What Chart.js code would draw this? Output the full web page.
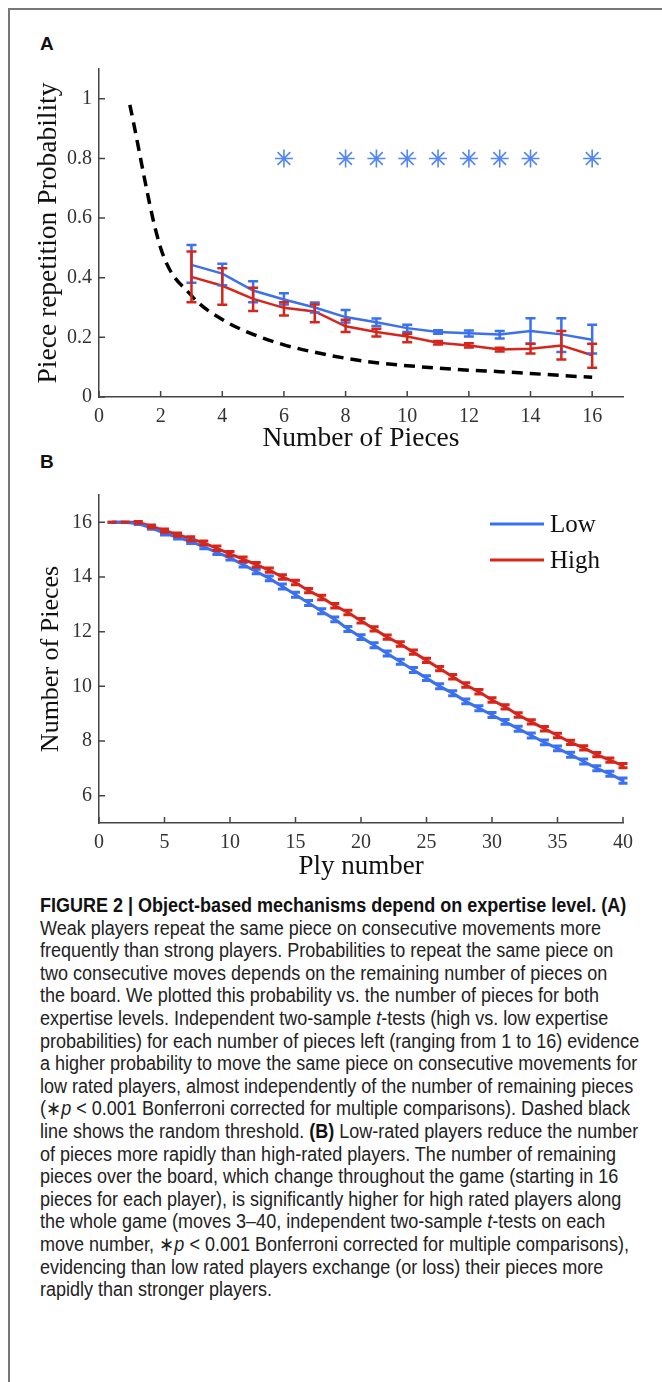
<!DOCTYPE html>
<html>
<head>
<meta charset="utf-8">
<script src="https://cdn.jsdelivr.net/npm/chart.js@4.4.0/dist/chart.umd.min.js"></script>
<style>
  body { margin: 0; width: 662px; height: 1382px; background: #fff; position: relative; overflow: hidden; }
  #frame { position: absolute; left: 8px; top: 8px; width: 700px; height: 1400px; border-left: 2px solid #777; border-top: 2px solid #777; }
  .lbl { position: absolute; font: bold 19px "Liberation Sans", Arial, sans-serif; color: #111; }
  #chartA { position: absolute; left: 0; top: 50px; }
  #chartB { position: absolute; left: 0; top: 470px; }
  #caption { position: absolute; left: 40px; top: 894px; font: 20px "Liberation Sans", sans-serif;
             color: #222; line-height: 22.6px; white-space: nowrap; transform: scaleX(0.9); transform-origin: 0 0; }
  #caption div b { color: #111; }
</style>
</head>
<body>
<div id="frame"></div>
<div class="lbl" style="left:40px;top:33px">A</div>
<div class="lbl" style="left:40px;top:451px">B</div>
<canvas id="chartA" width="662" height="410"></canvas>
<canvas id="chartB" width="662" height="420"></canvas>
<div id="caption">
  <div><b>FIGURE 2 | Object-based mechanisms depend on expertise level. (A)</b></div>
  <div>Weak players repeat the same piece on consecutive movements more</div>
  <div>frequently than strong players. Probabilities to repeat the same piece on</div>
  <div>two consecutive moves depends on the remaining number of pieces on</div>
  <div>the board. We plotted this probability vs. the number of pieces for both</div>
  <div>expertise levels. Independent two-sample <i>t</i>-tests (high vs. low expertise</div>
  <div>probabilities) for each number of pieces left (ranging from 1 to 16) evidence</div>
  <div>a higher probability to move the same piece on consecutive movements for</div>
  <div>low rated players, almost independently of the number of remaining pieces</div>
  <div>(∗<i>p</i> &lt; 0.001 Bonferroni corrected for multiple comparisons). Dashed black</div>
  <div>line shows the random threshold. <b>(B)</b> Low-rated players reduce the number</div>
  <div>of pieces more rapidly than high-rated players. The number of remaining</div>
  <div>pieces over the board, which change throughout the game (starting in 16</div>
  <div>pieces for each player), is significantly higher for high rated players along</div>
  <div>the whole game (moves 3–40, independent two-sample <i>t</i>-tests on each</div>
  <div>move number, ∗<i>p</i> &lt; 0.001 Bonferroni corrected for multiple comparisons),</div>
  <div>evidencing than low rated players exchange (or loss) their pieces more</div>
  <div>rapidly than stronger players.</div>
</div>
<script>
// ---- panel A data ----
const pieceTicks = [0, 2, 4, 6, 8, 10, 12, 14, 16];
const probTicks = [0, 0.2, 0.4, 0.6, 0.8, 1];
const randomPieces = [1, 2, 3, 4, 5, 6, 7, 8, 9, 10, 11, 12, 13, 14, 15, 16];
const randomProb = [0.98, 0.5, 0.34, 0.26, 0.21, 0.175, 0.15, 0.13, 0.115, 0.105, 0.097, 0.09, 0.085, 0.079, 0.072, 0.066];
const pieces = [3, 4, 5, 6, 7, 8, 9, 10, 11, 12, 13, 14, 15, 16];
const lowProb   = [0.443, 0.414, 0.357, 0.327, 0.300, 0.268, 0.251, 0.231, 0.218, 0.214, 0.210, 0.221, 0.210, 0.192];
const lowProbLo = [0.383, 0.375, 0.318, 0.310, 0.283, 0.250, 0.238, 0.218, 0.212, 0.203, 0.196, 0.179, 0.151, 0.146];
const lowProbHi = [0.510, 0.447, 0.388, 0.348, 0.317, 0.292, 0.263, 0.242, 0.224, 0.223, 0.221, 0.264, 0.264, 0.242];
const highProb   = [0.403, 0.373, 0.329, 0.299, 0.287, 0.237, 0.218, 0.203, 0.182, 0.173, 0.159, 0.162, 0.173, 0.140];
const highProbLo = [0.318, 0.309, 0.288, 0.273, 0.251, 0.218, 0.203, 0.184, 0.176, 0.166, 0.153, 0.146, 0.126, 0.098];
const highProbHi = [0.488, 0.432, 0.366, 0.318, 0.310, 0.259, 0.229, 0.212, 0.188, 0.180, 0.165, 0.179, 0.221, 0.179];
const sigPieces = [6, 8, 9, 10, 11, 12, 13, 14, 16];
const sigLevel = 0.8;

// ---- panel B data ----
const plyTicks = [0, 5, 10, 15, 20, 25, 30, 35, 40];
const countTicks = [6, 8, 10, 12, 14, 16];
const plies = [1, 2, 3, 4, 5, 6, 7, 8, 9, 10, 11, 12, 13, 14, 15, 16, 17, 18, 19, 20,
               21, 22, 23, 24, 25, 26, 27, 28, 29, 30, 31, 32, 33, 34, 35, 36, 37, 38, 39, 40];
const lowCount = [16, 16, 15.95, 15.8, 15.6, 15.45, 15.3, 15.1, 14.9, 14.7, 14.45, 14.2, 13.95, 13.65, 13.35,
                  13.05, 12.75, 12.45, 12.1, 11.8, 11.5, 11.2, 10.9, 10.6, 10.3, 10.0, 9.75, 9.45, 9.2, 8.95,
                  8.7, 8.45, 8.2, 7.95, 7.73, 7.5, 7.25, 7.0, 6.8, 6.55];
const highCount = [16, 16, 16, 15.85, 15.7, 15.55, 15.4, 15.25, 15.05, 14.85, 14.65, 14.45, 14.25, 14.0, 13.8,
                   13.5, 13.25, 12.95, 12.7, 12.4, 12.1, 11.8, 11.55, 11.25, 10.95, 10.65, 10.35, 10.05, 9.8, 9.5,
                   9.25, 8.95, 8.7, 8.45, 8.2, 7.95, 7.75, 7.5, 7.3, 7.1];
const lowCountErr = [0, 0, 0.03, 0.05, 0.06, 0.06, 0.07, 0.07, 0.08, 0.08, 0.08, 0.08, 0.09, 0.09, 0.09,
                     0.09, 0.09, 0.09, 0.09, 0.09, 0.09, 0.09, 0.09, 0.09, 0.09, 0.09, 0.09, 0.09, 0.09, 0.09,
                     0.09, 0.09, 0.09, 0.09, 0.09, 0.09, 0.09, 0.09, 0.09, 0.1];
const highCountErr = [0, 0, 0.03, 0.05, 0.06, 0.06, 0.07, 0.07, 0.08, 0.08, 0.08, 0.08, 0.08, 0.08, 0.08,
                      0.08, 0.08, 0.08, 0.08, 0.08, 0.08, 0.08, 0.08, 0.08, 0.08, 0.08, 0.08, 0.08, 0.08, 0.08,
                      0.08, 0.08, 0.08, 0.08, 0.08, 0.08, 0.08, 0.08, 0.08, 0.08];

const BLUE = '#3b70ee';
const RED = '#d6261b';
const STAR = '#5286f7';

Chart.defaults.font.family = '"Liberation Serif", "Times New Roman", serif';
Chart.defaults.color = '#333';

const pts = (xs, ys) => xs.map((x, i) => ({ x: x, y: ys[i] }));

// vertical error bars with caps, drawn from dataset.errLo / errHi
const errorBars = {
  id: 'errorBars',
  afterDatasetsDraw(chart) {
    const ctx = chart.ctx, xs = chart.scales.x, ys = chart.scales.y;
    chart.data.datasets.forEach(ds => {
      if (!ds.errLo) return;
      ctx.save();
      ctx.strokeStyle = ds.borderColor;
      ctx.lineWidth = ds.errWidth || 2.5;
      const cap = ds.capHalf || 5;
      ds.data.forEach((p, i) => {
        const x = xs.getPixelForValue(p.x);
        const y1 = ys.getPixelForValue(ds.errLo[i]);
        const y2 = ys.getPixelForValue(ds.errHi[i]);
        ctx.beginPath();
        ctx.moveTo(x, y1); ctx.lineTo(x, y2);
        ctx.moveTo(x - cap, y1); ctx.lineTo(x + cap, y1);
        ctx.moveTo(x - cap, y2); ctx.lineTo(x + cap, y2);
        ctx.stroke();
      });
      ctx.restore();
    });
  }
};

// tick marks pointing into the plot, matlab style
const innerTicks = {
  id: 'innerTicks',
  afterDraw(chart) {
    const ctx = chart.ctx, a = chart.chartArea;
    ctx.save();
    ctx.strokeStyle = '#444';
    ctx.lineWidth = 1.5;
    ctx.beginPath();
    chart.scales.x.ticks.forEach(t => {
      const x = chart.scales.x.getPixelForValue(t.value);
      ctx.moveTo(x, a.bottom); ctx.lineTo(x, a.bottom - 6);
    });
    chart.scales.y.ticks.forEach(t => {
      const y = chart.scales.y.getPixelForValue(t.value);
      ctx.moveTo(a.left, y); ctx.lineTo(a.left + 6, y);
    });
    ctx.stroke();
    ctx.restore();
  }
};

// legend for panel B (lines + labels, top right)
const legendB = {
  id: 'legendB',
  afterDraw(chart) {
    const ctx = chart.ctx;
    ctx.save();
    ctx.font = '25px "Liberation Serif", serif';
    ctx.textBaseline = 'middle';
    chart.data.datasets.forEach((ds, i) => {
      const y = 54 + i * 36;
      ctx.strokeStyle = ds.borderColor;
      ctx.lineWidth = 3;
      ctx.beginPath(); ctx.moveTo(490, y); ctx.lineTo(544, y); ctx.stroke();
      ctx.fillStyle = '#111';
      ctx.fillText(ds.label, 550, y + 1);
    });
    ctx.restore();
  }
};

function axis(min, max, ticks, title, fontSize, titlePad, size, tickPad) {
  return {
    type: 'linear', min: min, max: max,
    grid: { display: false, drawTicks: false },
    border: { display: true, color: '#444', width: 1.5 },
    afterBuildTicks: s => { s.ticks = ticks.map(v => ({ value: v })); },
    ticks: { font: { size: 20 }, color: '#333', padding: tickPad, callback: v => String(Math.round(v * 10) / 10) },
    title: { display: true, text: title, color: '#111', font: { size: fontSize }, padding: titlePad },
    afterFit: s => { if (s.isHorizontal()) s.height = size; else s.width = size; }
  };
}

new Chart(document.getElementById('chartA'), {
  type: 'line',
  data: {
    datasets: [
      { label: 'Random', data: pts(randomPieces, randomProb), borderColor: '#000', borderWidth: 3.5,
        borderDash: [11, 7], pointRadius: 0, cubicInterpolationMode: 'monotone' },
      { label: 'Low', data: pts(pieces, lowProb), borderColor: BLUE, borderWidth: 2.5, pointRadius: 0,
        errLo: lowProbLo, errHi: lowProbHi },
      { label: 'High', data: pts(pieces, highProb), borderColor: RED, borderWidth: 2.5, pointRadius: 0,
        errLo: highProbLo, errHi: highProbHi },
      { label: 'p < 0.001', data: sigPieces.map(p => ({ x: p, y: sigLevel })), showLine: false,
        pointStyle: 'star', pointRadius: 9, borderColor: STAR, borderWidth: 1.6 }
    ]
  },
  options: {
    responsive: false, animation: false,
    layout: { padding: { left: 28, top: 17, right: 39, bottom: 0 } },
    plugins: { legend: { display: false }, tooltip: { enabled: false } },
    scales: {
      x: axis(0, 17, pieceTicks, 'Number of Pieces', 27.5, { top: 0, bottom: 5 }, 63, 8),
      y: axis(0, 1.1, probTicks, 'Piece repetition Probability', 27.5, { top: 4, bottom: 0 }, 71, 7)
    }
  },
  plugins: [errorBars, innerTicks]
});

new Chart(document.getElementById('chartB'), {
  type: 'line',
  data: {
    datasets: [
      { label: 'Low', data: pts(plies, lowCount), borderColor: BLUE, borderWidth: 3, pointRadius: 0,
        errLo: lowCount.map((v, i) => v - lowCountErr[i]), errHi: lowCount.map((v, i) => v + lowCountErr[i]),
        errWidth: 3, capHalf: 4.5 },
      { label: 'High', data: pts(plies, highCount), borderColor: RED, borderWidth: 3, pointRadius: 0,
        errLo: highCount.map((v, i) => v - highCountErr[i]), errHi: highCount.map((v, i) => v + highCountErr[i]),
        errWidth: 3, capHalf: 4.5 }
    ]
  },
  options: {
    responsive: false, animation: false,
    layout: { padding: { left: 32, top: 25, right: 39, bottom: 0 } },
    plugins: { legend: { display: false }, tooltip: { enabled: false } },
    scales: {
      x: axis(0, 40, plyTicks, 'Ply number', 27, { top: 0, bottom: 7 }, 67, 8),
      y: axis(5, 17, countTicks, 'Number of Pieces', 26, { top: 4, bottom: 0 }, 67, 7)
    }
  },
  plugins: [errorBars, innerTicks, legendB]
});
</script>
</body>
</html>
